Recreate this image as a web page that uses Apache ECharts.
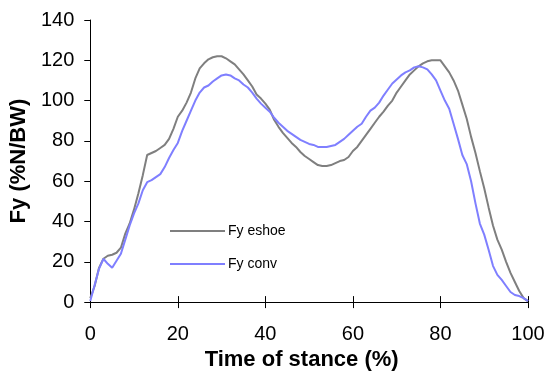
<!DOCTYPE html>
<html>
<head>
<meta charset="utf-8">
<script src="https://cdn.jsdelivr.net/npm/echarts@6/dist/echarts.min.js"></script>
<style>
html,body{margin:0;padding:0;background:#fff;}
#c{width:550px;height:376px;}
</style>
</head>
<body>
<div id="c"></div>
<script>
// Time of stance (%)
const timePct = [];
for (let i = 0; i <= 100; i++) timePct.push(i);

const fyEshoe = [2,8,17,21.5,23,23.5,24.5,27,34,39,
  46,54,63,73,74,75,76.5,78,81,86,
  92,95,99,104,111,116,118.5,120.5,121.5,122,
  122,121,119.5,118,115.5,113,110,107,103,101,
  98.5,95.5,90.5,87,84,81.5,79,77,74.5,72.5,
  71,69.5,68,67.5,67.5,68,69,70,70.5,72,
  75,77,80,83,86,89,92,94.5,97.5,100,
  104,107,110,113,115,117,118.5,119.5,120,120,
  120,117,114,110,105,98,91,82,74,65,
  56.5,47,38,31,26,20,14.5,10,5.5,2,0.5];

const fyConv = [0.5,8.5,16.5,21.5,19,17,20.5,24,31,38,
  44,49,55.5,59.5,60.5,62,63.5,67,71.5,75.5,
  79,85,90,95,100,104,106.5,107.5,109.5,111,
  112.5,113,112.5,111,110,108,106.5,104,101,98.5,
  96.5,94.5,91.5,89,87,85,83.5,82,80.5,79.5,
  78.5,78,77,77,77,77.5,78,79.5,81,83,
  85,87,88.5,92,95,96.5,99,102.5,105.5,108.5,
  110.5,112.5,114,115,116.5,117,116.5,115.5,113,110,
  105,100,96,88.5,81,73,68.5,60,49,39,
  33.5,26,18,13.5,11,8,5,3.5,3,2,0.5];

const seriesNames = ['Fy eshoe', 'Fy conv'];
const xTitle = 'Time of stance (%)';
const yTitle = 'Fy (%N/BW)';

const font = 'Arial, "Liberation Sans", sans-serif';
const chart = echarts.init(document.getElementById('c'), null, {renderer: 'canvas'});

function pairs(xs, ys) { return xs.map((x, i) => [x, ys[i]]); }

chart.setOption({
  animation: false,
  backgroundColor: '#fff',
  grid: {left: 87, right: 22, top: 20, bottom: 66.5, containLabel: false},
  legend: {
    orient: 'vertical',
    left: 170,
    top: 224,
    padding: 0,
    icon: 'rect',
    itemWidth: 55,
    itemHeight: 2,
    itemGap: 19,
    textStyle: {fontFamily: font, fontSize: 14, color: '#000', padding: [0, 0, 0, -2]},
    data: seriesNames
  },
  xAxis: [{
    type: 'value', min: 0, max: 100, interval: 20,
    axisLine: {show: true, lineStyle: {color: '#000', width: 1}},
    axisTick: {show: true, inside: false, length: 6, lineStyle: {color: '#000'}},
    axisLabel: {fontFamily: font, fontSize: 20, color: '#000', margin: 22},
    splitLine: {show: false},
    name: xTitle, nameLocation: 'middle', nameGap: 37,
    nameTextStyle: {fontFamily: font, fontSize: 22, fontWeight: 'bold', color: '#000', padding: [0, 15, 0, 0]}
  }, {
    type: 'value', min: 0, max: 100, interval: 20, position: 'bottom',
    axisLine: {show: false},
    axisTick: {show: true, inside: true, length: 6, lineStyle: {color: '#000'}},
    axisLabel: {show: false},
    splitLine: {show: false}
  }],
  yAxis: {
    type: 'value', min: 0, max: 140, interval: 20,
    axisLine: {show: true, lineStyle: {color: '#000', width: 1}},
    axisTick: {show: true, inside: false, length: 6, lineStyle: {color: '#000'}},
    axisLabel: {fontFamily: font, fontSize: 20, color: '#000', margin: 16},
    splitLine: {show: false},
    name: yTitle, nameLocation: 'middle', nameGap: 56,
    nameTextStyle: {fontFamily: font, fontSize: 22, fontWeight: 'bold', color: '#000'}
  },
  series: [{
    name: seriesNames[0], type: 'line', showSymbol: false, symbol: 'none',
    data: pairs(timePct, fyEshoe),
    lineStyle: {color: '#7f7f7f', width: 2},
    itemStyle: {color: '#7f7f7f'}
  }, {
    name: seriesNames[1], type: 'line', showSymbol: false, symbol: 'none',
    data: pairs(timePct, fyConv),
    lineStyle: {color: '#7f7fff', width: 2},
    itemStyle: {color: '#7f7fff'}
  }]
});
</script>
</body>
</html>
